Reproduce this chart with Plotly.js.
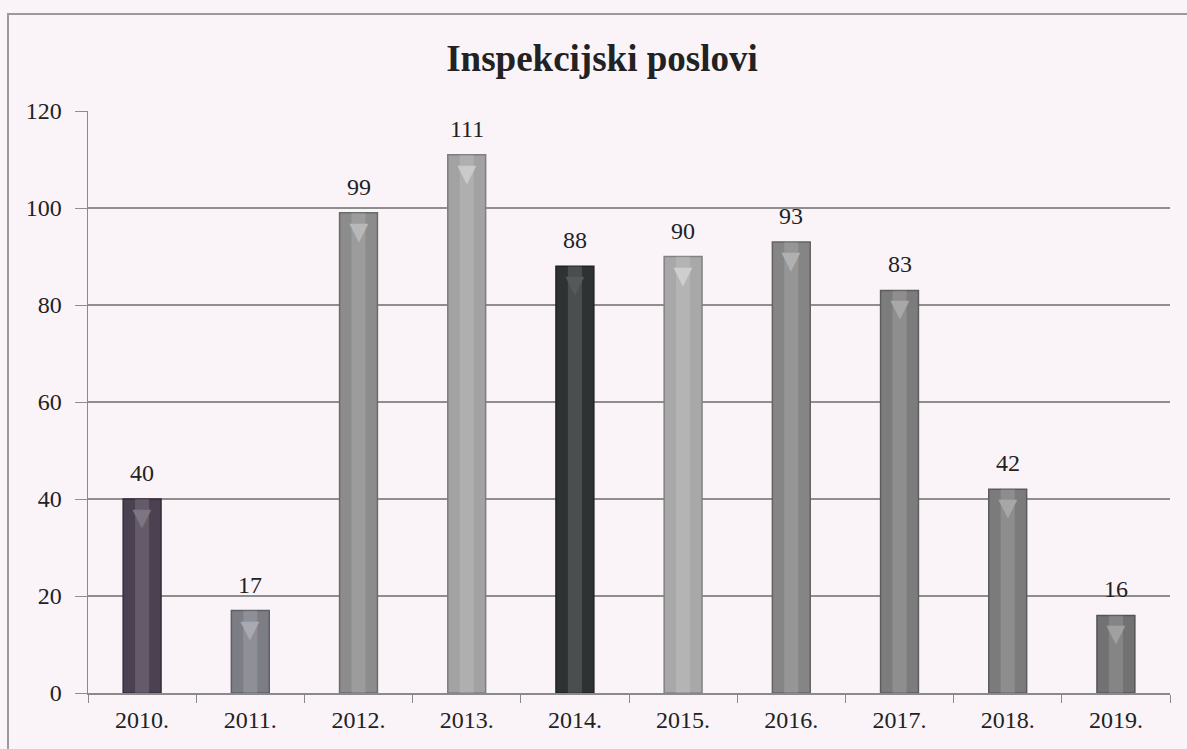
<!DOCTYPE html>
<html>
<head>
<meta charset="utf-8">
<script src="https://cdn.plot.ly/plotly-3.0.1.min.js"></script>
<style>
  html, body { margin: 0; padding: 0; background: #faf4f9; }
  #frame { position: absolute; left: 7px; top: 13px; width: 1190px; height: 760px;
           border-left: 2px solid #9a9a9a; border-top: 2px solid #9a9a9a; box-sizing: border-box; }
  #chart { position: absolute; left: 0; top: 0; width: 1187px; height: 749px; }
</style>
</head>
<body>
<div id="frame"></div>
<div id="chart"></div>
<script>
const chartTitle = "Inspekcijski poslovi";
const years = ["2010.", "2011.", "2012.", "2013.", "2014.", "2015.", "2016.", "2017.", "2018.", "2019."];
const values = [40, 17, 99, 111, 88, 90, 93, 83, 42, 16];
const barColors = ["#4b4150", "#7d7d86", "#8c8c8c", "#a2a2a2", "#2f3232", "#a8a8a8", "#858585", "#7c7c7c", "#7b7b7b", "#727272"];
const edgeColors = ["#362d3a", "#5e5e66", "#6a6a6a", "#7e7e7e", "#1f2222", "#828282", "#636363", "#5c5c5c", "#5b5b5b", "#545454"];
const capColors = ["#7e7482", "#a9a9b1", "#b8b8b8", "#cacaca", "#555959", "#cecece", "#b0b0b0", "#a8a8a8", "#a7a7a7", "#a0a0a0"];

const serif = "Liberation Serif, Times New Roman, serif";

const mainBars = {
  type: "bar", x: years, y: values, width: 0.35,
  marker: { color: barColors, line: { color: edgeColors, width: 1.5 } },
  hoverinfo: "x+y", showlegend: false
};
const highlight = {
  type: "bar", x: years, y: values, width: 0.13,
  marker: { color: "rgba(255,255,255,0.14)", line: { width: 0 } },
  hoverinfo: "skip", showlegend: false
};

const caps = years.map((yr, i) => ({
  x: i, y: values[i], xref: "x", yref: "y", text: "▼", showarrow: false,
  yanchor: "top", yshift: 7, font: { size: 32, color: capColors[i] }
}));
const labels = years.map((yr, i) => ({
  x: i, y: values[i], xref: "x", yref: "y", text: String(values[i]), showarrow: false,
  yanchor: "bottom", yshift: 11, font: { family: serif, size: 24, color: "#222" }
}));

const layout = {
  width: 1187, height: 749,
  paper_bgcolor: "rgba(0,0,0,0)", plot_bgcolor: "rgba(0,0,0,0)",
  margin: { l: 88, r: 17, t: 111, b: 56 },
  barmode: "overlay",
  title: { text: "<b>" + chartTitle + "</b>", x: 0.475, xanchor: "center", y: 0.922, yanchor: "middle",
           xref: "paper", font: { family: serif, size: 37, color: "#222" } },
  xaxis: {
    type: "category", range: [-0.5, years.length - 0.5], autorange: false,
    showgrid: false, showline: true, linecolor: "#8a8a8a", linewidth: 1.5,
    ticks: "outside", tickson: "boundaries", ticklen: 8, tickcolor: "#8a8a8a", tickangle: 0,
    ticklabelstandoff: 5,
    tickfont: { family: serif, size: 24, color: "#222" }, fixedrange: true
  },
  yaxis: {
    range: [0, 120], dtick: 20, showgrid: true, gridcolor: "#8e8e8e", gridwidth: 1.3,
    showline: true, linecolor: "#8a8a8a", linewidth: 1.5, zeroline: false,
    ticks: "outside", ticklen: 12, tickcolor: "#8e8e8e", ticklabelstandoff: 8,
    tickfont: { family: serif, size: 24, color: "#222" }, fixedrange: true
  },
  annotations: caps.concat(labels)
};

Plotly.newPlot("chart", [mainBars, highlight], layout, { displayModeBar: false, staticPlot: true });
</script>
</body>
</html>
